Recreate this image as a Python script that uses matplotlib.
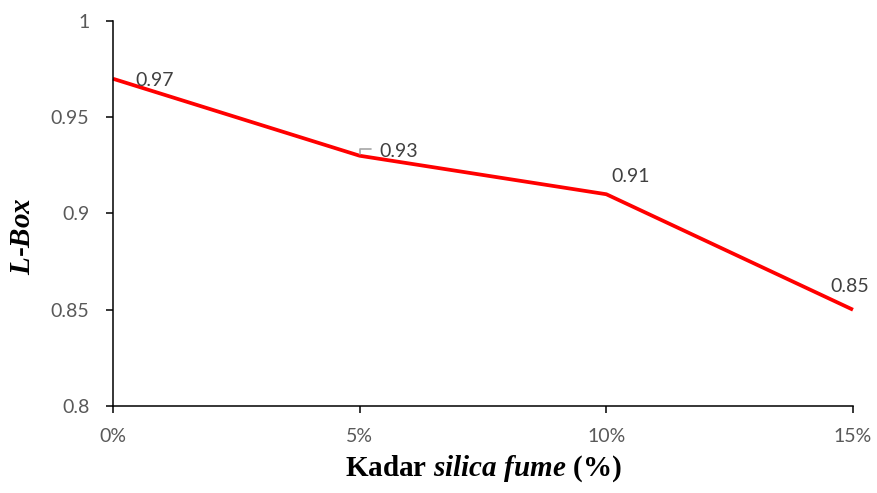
import matplotlib.pyplot as plt

plt.rcParams['mathtext.fontset'] = 'custom'
plt.rcParams['mathtext.it'] = 'Liberation Serif:italic:bold'
plt.rcParams['mathtext.rm'] = 'Liberation Serif:bold'
plt.rcParams['mathtext.bf'] = 'Liberation Serif:bold'

kadar = ['0%', '5%', '10%', '15%']
lbox = [0.97, 0.93, 0.91, 0.85]
yticks = [0.8, 0.85, 0.9, 0.95, 1.0]
ytick_labels = ['0.8', '0.85', '0.9', '0.95', '1']

fig = plt.figure(figsize=(8.78, 4.93), dpi=100)
ax = fig.add_axes([0.1287, 0.1765, 0.8428, 0.7809])

xs = list(range(len(kadar)))
ax.plot(xs, lbox, color='#ff0000', linewidth=2.7, solid_capstyle='butt', clip_on=False)

ax.set_xlim(0, len(kadar) - 1)
ax.set_ylim(0.8, 1.0)
ax.set_xticks(xs)
ax.set_xticklabels(kadar)
ax.set_yticks(yticks)
ax.set_yticklabels(ytick_labels)

for side in ['top', 'right']:
    ax.spines[side].set_visible(False)
for side in ['left', 'bottom']:
    ax.spines[side].set_linewidth(1.1)
ax.tick_params(axis='both', direction='out', length=5, width=1.1, color='black',
               labelcolor='#595959', labelsize=14)
ax.tick_params(axis='x', pad=11)
ax.tick_params(axis='y', pad=12)
for lbl in ax.get_xticklabels() + ax.get_yticklabels():
    lbl.set_family('Lato')

# data labels, offsets in points
offsets = [(16, -1), (14, 3), (4, 13), (-16, 17)]
for x, y, (dx, dy) in zip(xs, lbox, offsets):
    ax.annotate(f'{y:.2f}', (x, y), xytext=(dx, dy), textcoords='offset points',
                ha='left', va='center', fontsize=14, family='Lato', color='#404040',
                annotation_clip=False)

# small leader line for the 0.93 label
ax.annotate('', (xs[1], lbox[1]), xytext=(xs[1] + 0.045, lbox[1] + 0.0035),
            arrowprops=dict(arrowstyle='-', color='#a6a6a6', lw=1.2,
                            connectionstyle='angle,angleA=0,angleB=90,rad=0',
                            shrinkA=0, shrinkB=1))

ax.set_xlabel(r'Kadar $silica\ fume$ (%)', family='Liberation Serif',
              fontweight='bold', fontsize=21, labelpad=6)
ax.set_ylabel(r'$L$-$Box$', family='Liberation Serif', fontweight='bold',
              fontsize=21)
ax.yaxis.set_label_coords(-0.104, 0.44)

fig.savefig('out.png', dpi=100)
